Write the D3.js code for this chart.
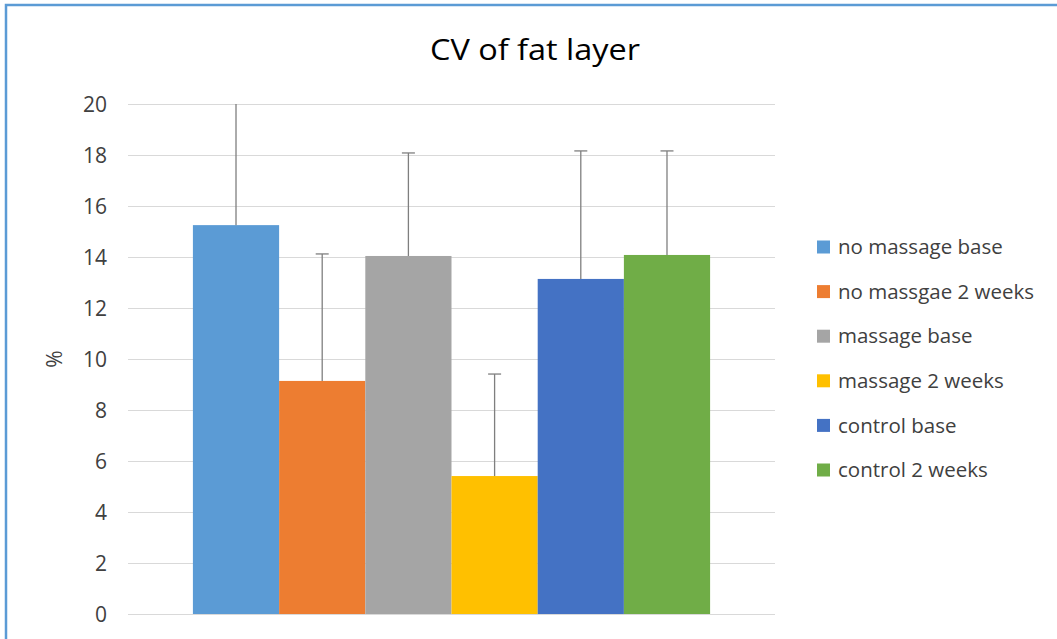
<!DOCTYPE html>
<html><head><meta charset="utf-8">
<script src="https://cdn.jsdelivr.net/npm/d3@7"></script>
<style>body{margin:0;background:#fff;}svg{display:block;}</style>
</head><body>
<svg id="c" width="1057" height="639"></svg>
<script>
const categories = [""];
const seriesNames = ["no massage base","no massgae 2 weeks","massage base","massage 2 weeks","control base","control 2 weeks"];
const seriesValues = [15.25, 9.14, 14.04, 5.41, 13.14, 14.08];
const seriesErrors = [5.3, 4.98, 4.04, 4.0, 5.02, 4.08];
const seriesColors = ["#5b9bd5","#ed7d31","#a5a5a5","#ffc000","#4472c4","#70ad47"];
const yTicks = [0,2,4,6,8,10,12,14,16,18,20];
const title = "CV of fat layer";
const yLabel = "%";

const svg = d3.select("#c");
const font = "'Open Sans', sans-serif";
// border
svg.append("path").attr("d","M6,639 V5 H1057").attr("fill","none").attr("stroke","#5b9bd5").attr("stroke-width",2.5);

const plot = {l:128, r:775, t:104, b:614};
const y = d3.scaleLinear().domain([0,20]).range([plot.b, plot.t]);
const x0 = d3.scaleBand().domain(categories).range([plot.l, plot.r]).paddingOuter(0.1255);
const x1 = d3.scaleBand().domain(seriesNames).range([0, x0.bandwidth()]);

// gridlines
svg.append("g").selectAll("line").data(yTicks).join("line")
  .attr("x1",plot.l).attr("x2",plot.r)
  .attr("y1",d=>Math.round(y(d))+0.5).attr("y2",d=>Math.round(y(d))+0.5)
  .attr("stroke","#d9d9d9").attr("stroke-width",1);

// y axis labels
const ya = d3.axisLeft(y).tickValues(yTicks).tickSize(0).tickPadding(0);
const yg = svg.append("g").attr("transform",`translate(${plot.l-21},0)`).call(ya);
yg.select(".domain").remove();
yg.selectAll("text").attr("font-family",font).attr("font-size",21).attr("fill","#404040").attr("dy","0.36em");

svg.append("text").attr("transform",`translate(62,${359}) rotate(-90)`)
  .attr("text-anchor","middle").attr("font-family",font).attr("font-size",21).attr("fill","#404040").text(yLabel);

const data = seriesNames.map((n,i)=>({name:n,v:seriesValues[i],e:seriesErrors[i],c:seriesColors[i]}));
const defs = svg.append("defs");
defs.append("clipPath").attr("id","clip").append("rect").attr("x",plot.l).attr("y",plot.t).attr("width",plot.r-plot.l).attr("height",plot.b-plot.t);

const g = svg.append("g").attr("transform",`translate(${x0(categories[0])},0)`);
g.selectAll("rect").data(data).join("rect")
  .attr("x",d=>x1(d.name)).attr("width",x1.bandwidth())
  .attr("y",d=>y(d.v)).attr("height",d=>y(0)-y(d.v)).attr("fill",d=>d.c);

const eg = svg.append("g").attr("clip-path","url(#clip)").append("g").attr("transform",`translate(${x0(categories[0])},0)`);
const eb = eg.selectAll("g").data(data).join("g");
eb.append("line").attr("x1",d=>x1(d.name)+x1.bandwidth()/2).attr("x2",d=>x1(d.name)+x1.bandwidth()/2)
  .attr("y1",d=>y(d.v)).attr("y2",d=>y(d.v+d.e)).attr("stroke","#7f7f7f").attr("stroke-width",1.3);
eb.append("line").attr("x1",d=>x1(d.name)+x1.bandwidth()/2-6.5).attr("x2",d=>x1(d.name)+x1.bandwidth()/2+6.5)
  .attr("y1",d=>y(d.v+d.e)).attr("y2",d=>y(d.v+d.e)).attr("stroke","#7f7f7f").attr("stroke-width",1.3);

// title
svg.append("text").attr("x",535).attr("y",60).attr("text-anchor","middle")
  .attr("font-family",font).attr("font-size",30).attr("textLength",210).attr("lengthAdjust","spacingAndGlyphs")
  .attr("fill","#000").text(title);

// legend
const lg = svg.append("g").selectAll("g").data(data).join("g")
  .attr("transform",(d,i)=>`translate(817,${247+i*44.6})`);
lg.append("rect").attr("x",0).attr("y",-6.5).attr("width",13).attr("height",13).attr("fill",d=>d.c);
lg.append("text").attr("x",21).attr("dy","0.35em").attr("font-family",font).attr("font-size",20.5).attr("fill","#404040").text(d=>d.name);
</script>
</body></html>
